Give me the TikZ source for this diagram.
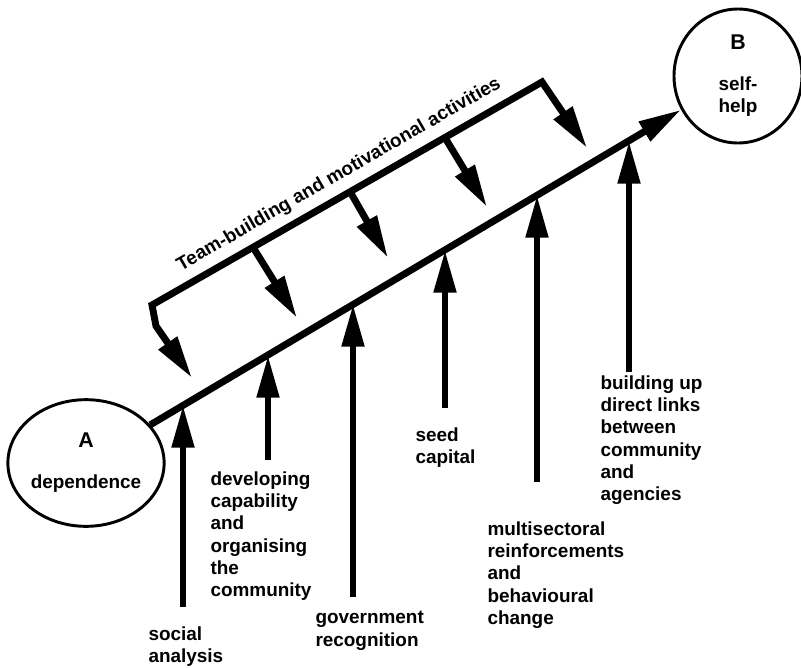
\documentclass[tikz,border=0pt]{standalone}
\usepackage{fontspec}
\setmainfont{Liberation Sans}
\usetikzlibrary{arrows.meta,shapes.geometric,calc}

\tikzset{every picture/.style={line width=0.75pt}}
\tikzset{
  >={Triangle[length=32pt,width=16pt]},
  heavy/.style={line width=5.2pt},
  stage/.style={draw, ellipse, line width=2.2pt, inner sep=0pt, align=center,
    font=\bfseries\fontsize{14.2}{16.7}\selectfont},
  lbl/.style={align=left, inner sep=0pt, anchor=north west,
    font=\bfseries\fontsize{14.2}{16.7}\selectfont}
}

\begin{document}
\begin{tikzpicture}[x=0.75pt,y=0.75pt,yscale=-1,xscale=1]
\useasboundingbox (0,0) rectangle (801,668);

%Shape: Ellipse [A]
\node[stage, minimum width=106.5pt, minimum height=95pt] (A) at (86,463) {{\fontsize{16}{16}\selectfont A}\\[14pt]dependence};
%Shape: Ellipse [B]
\node[stage, minimum width=96pt, minimum height=100.5pt] (B) at (738,76) {{\fontsize{16}{16}\selectfont B}\\[14pt]self-\\help};

%Straight Lines [main arrow A to B]
\draw[heavy, ->] (A) -- (B);

%Coordinates [up arrows]
\coordinate (s1) at (183,607); \coordinate (t1) at (183,405);
\coordinate (s2) at (268,460); \coordinate (t2) at (268,355);
\coordinate (s3) at (353,597); \coordinate (t3) at (353,304);
\coordinate (s4) at (445,408); \coordinate (t4) at (445,250);
\coordinate (s5) at (537,482); \coordinate (t5) at (537,195);
\coordinate (s6) at (629,372); \coordinate (t6) at (629,141);

%Straight Lines [up arrows]
\draw[heavy, ->] (s1) -- (t1);
\draw[heavy, ->] (s2) -- (t2);
\draw[heavy, ->] (s3) -- (t3);
\draw[heavy, ->] (s4) -- (t4);
\draw[heavy, ->] (s5) -- (t5);
\draw[heavy, ->] (s6) -- (t6);

%Coordinates [bracket]
\coordinate (bl) at (152,305);
\coordinate (br) at (542,82);
\coordinate (bk) at (156,326);
\coordinate (d1) at (192,378);
\coordinate (d5) at (587,148);
\coordinate (u2) at ($(bl)!0.259!(br)$); \coordinate (d2) at (297,318);
\coordinate (u3) at ($(bl)!0.508!(br)$); \coordinate (d3) at (388,258);
\coordinate (u4) at ($(bl)!0.751!(br)$); \coordinate (d4) at (487,207);

%Bracket [team-building]
\draw[heavy, <->] (d1) -- (bk) -- (bl) -- (br) -- (d5);

%Straight Lines [down arrows]
\draw[heavy, ->] (u2) -- (d2);
\draw[heavy, ->] (u3) -- (d3);
\draw[heavy, ->] (u4) -- (d4);

% Text Node
\node[rotate=29.9, anchor=base, inner sep=0pt, font=\bfseries\fontsize{14.2}{16.7}\selectfont] (team) at (341.5,179) {Team-building and motivational activities};
% Text Node
\node[lbl] (social) at (148,626) {social\\analysis};
% Text Node
\node[lbl] (develop) at (210,471) {developing\\capability\\and\\organising\\the\\community};
% Text Node
\node[lbl] (govt) at (315,611) {government\\recognition};
% Text Node
\node[lbl] (seed) at (415,427) {seed\\capital};
% Text Node
\node[lbl] (multi) at (487,521) {multisectoral\\reinforcements\\and\\behavioural\\change};
% Text Node
\node[lbl] (links) at (600,375) {building up\\direct links\\between\\community\\and\\agencies};

\end{tikzpicture}
\end{document}
